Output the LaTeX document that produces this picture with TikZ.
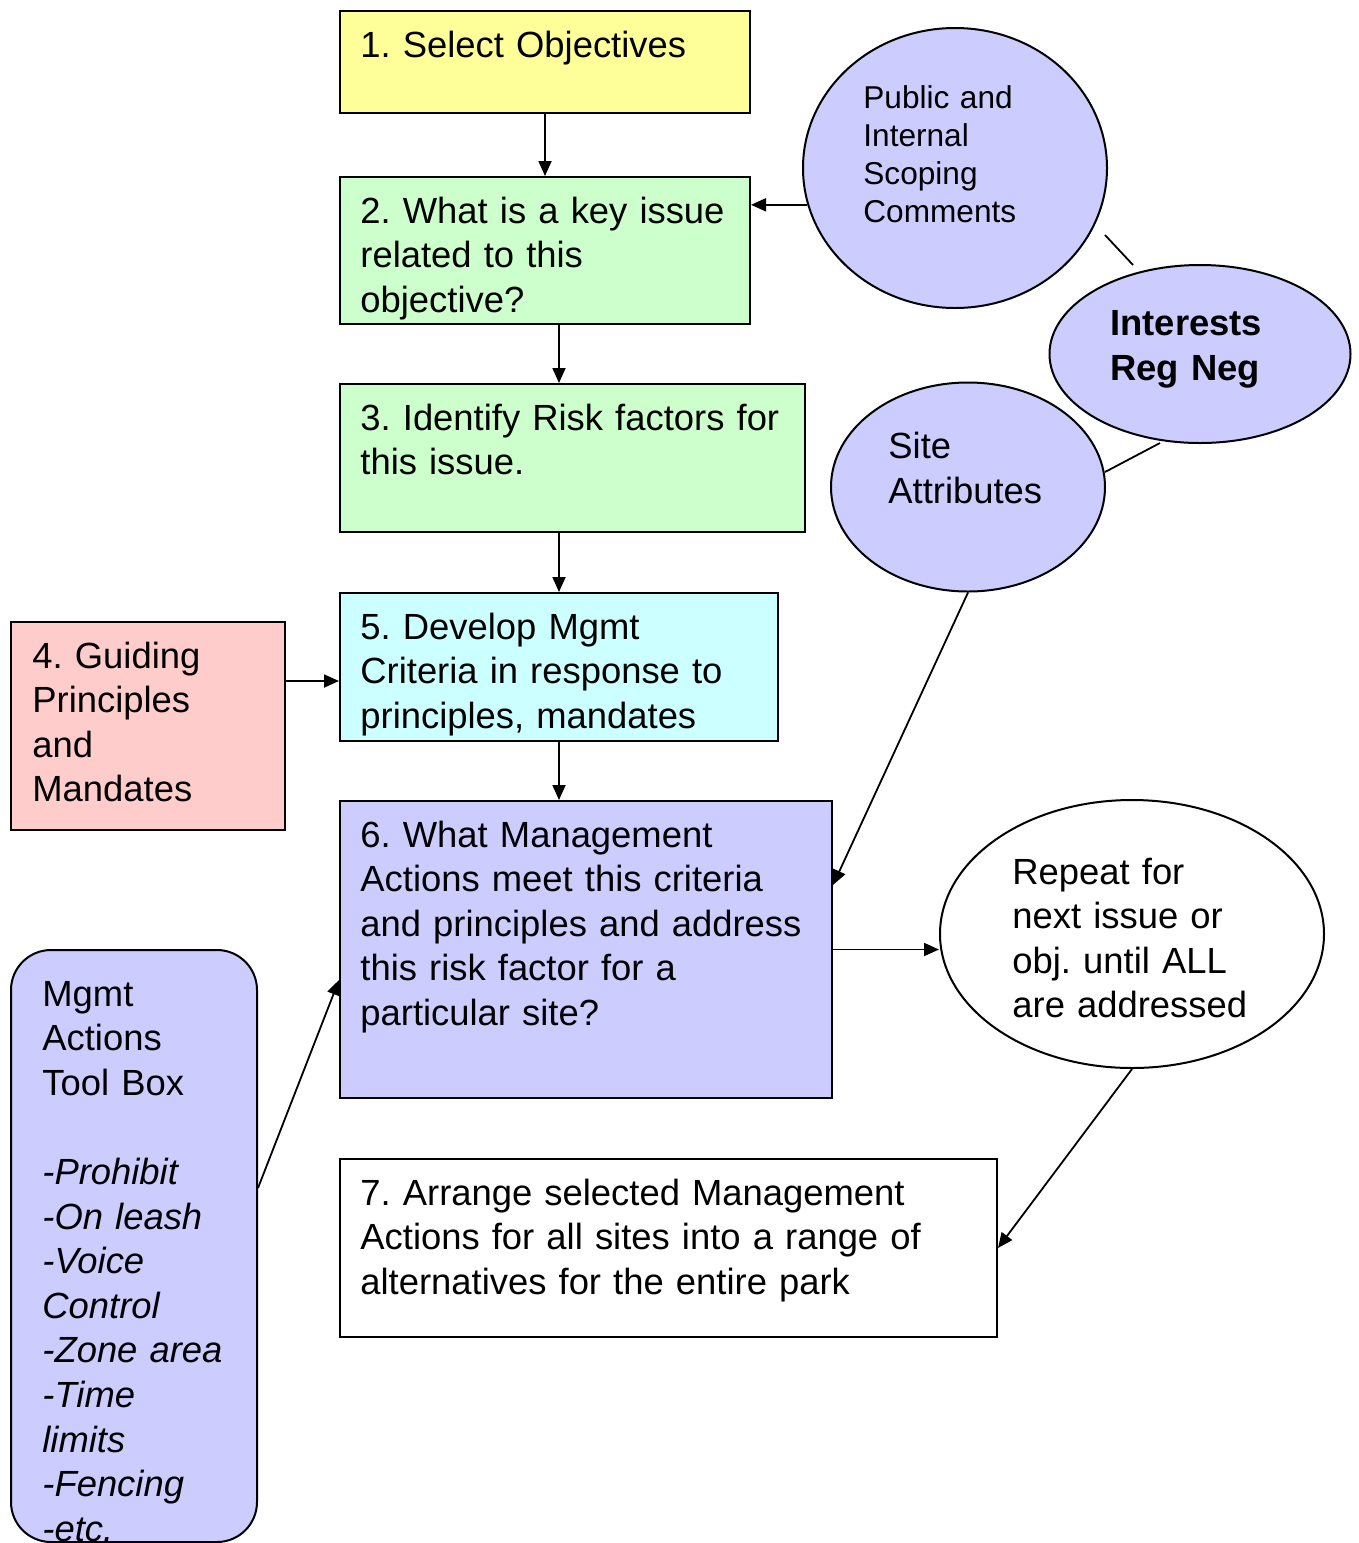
\documentclass[tikz,border=0pt]{standalone}
\usepackage{fontspec}
\setmainfont{Liberation Sans}
\usetikzlibrary{shapes.geometric,arrows.meta}
\definecolor{cyel}{HTML}{FFFF99}
\definecolor{cgrn}{HTML}{CCFFCC}
\definecolor{ccyn}{HTML}{CCFFFF}
\definecolor{cpnk}{HTML}{FFCCCC}
\definecolor{clav}{HTML}{CCCCFF}
\begin{document}
\frenchspacing
\begin{tikzpicture}[x=0.5pt,y=-0.5pt,
  boxnode/.style={draw=black,line width=1pt,inner sep=0pt,anchor=north west},
  ellnode/.style={ellipse,draw=black,line width=1pt,inner sep=0pt,fill=clav},
  txt/.style={anchor=base west,inner sep=0pt,text width=330pt,align=left,
    font=\fontsize{18.2}{22.3}\selectfont},
  smalltxt/.style={anchor=base west,inner sep=0pt,text width=120pt,align=left,
    font=\fontsize{15.8}{19}\selectfont},
  arr/.style={line width=0.9pt,-{Triangle[length=7.5pt,width=6.5pt]}},
  plain/.style={line width=0.9pt}]
\useasboundingbox (0,0) rectangle (1359,1543);
% boxes
\node[boxnode,fill=cyel,minimum width=205pt,minimum height=51pt] (b1) at (339,10) {};
\node[boxnode,fill=cgrn,minimum width=205pt,minimum height=73.5pt] (b2) at (339,176) {};
\node[boxnode,fill=cgrn,minimum width=232.5pt,minimum height=74pt] (b3) at (339,383) {};
\node[boxnode,fill=cpnk,minimum width=137pt,minimum height=104pt] (b4) at (10,621) {};
\node[boxnode,fill=ccyn,minimum width=219pt,minimum height=74pt] (b5) at (339,592) {};
\node[boxnode,fill=clav,minimum width=246pt,minimum height=148.5pt] (b6) at (339,800) {};
\node[boxnode,fill=white,minimum width=328.5pt,minimum height=89pt] (b7) at (339,1158) {};
\node[boxnode,fill=clav,rounded corners=20pt,minimum width=123pt,minimum height=296pt] (tb) at (10,949) {};
% ellipses
\node[ellnode,minimum width=152pt,minimum height=140pt] (pub) at (955,168) {};
\node[ellnode,minimum width=150.5pt,minimum height=89pt] (int) at (1200,354) {};
\node[ellnode,minimum width=137pt,minimum height=104.5pt] (site) at (968,487) {};
\node[ellnode,fill=white,minimum width=192pt,minimum height=134pt] (rep) at (1132,934) {};
% texts
\node[txt] (t1) at (360,57) {1. Select Objectives};
\node[txt] (t2) at (360,223) {2. What is a key issue\\related to this\\objective?};
\node[txt] (t3) at (360,430) {3. Identify Risk factors for\\this issue.};
\node[txt] (t4) at (32,668) {4. Guiding\\Principles\\and\\Mandates};
\node[txt] (t5) at (360,639) {5. Develop Mgmt\\Criteria in response to\\principles, mandates};
\node[txt] (t6) at (360,847) {6. What Management\\Actions meet this criteria\\and principles and address\\this risk factor for a\\particular site?};
\node[txt] (t7) at (360,1205) {7. Arrange selected Management\\Actions for all sites into a range of\\alternatives for the entire park};
\node[txt] (ttb) at (42,1006) {Mgmt\\Actions\\Tool Box\\[22.3pt]\textit{-Prohibit}\\\textit{-On leash}\\\textit{-Voice}\\\textit{Control}\\\textit{-Zone area}\\\textit{-Time}\\\textit{limits}\\\textit{-Fencing}\\\textit{-etc.}};
\node[smalltxt] (tpub) at (863,108) {Public and\\Internal\\Scoping\\Comments};
\node[txt,font=\fontsize{18.2}{22.5}\selectfont\bfseries] (tint) at (1110,335) {Interests\\Reg Neg};
\node[txt,font=\fontsize{18.2}{22.5}\selectfont] (tsite) at (888,458) {Site\\Attributes};
\node[txt] (trep) at (1012,884) {Repeat for\\next issue or\\obj. until ALL\\are addressed};
% helper coordinates
\coordinate (c45) at (0,681);
\coordinate (c6a) at (0,885);
\coordinate (c6b) at (0,980);
\coordinate (ctb) at (0,1188);
\coordinate (l1a) at (1105,235);
\coordinate (l1b) at (1133,265);
\coordinate (l2a) at (1105,472);
\coordinate (l2b) at (1160,443);
% connectors
\draw[arr] (b1.south) -- (b2.north);
\draw[arr] (b2.south -| b5.north) -- (b3.north -| b5.north);
\draw[arr] (b3.south -| b5.north) -- (b5.north);
\draw[arr] (b5.south) -- (b6.north -| b5.south);
\draw[arr] (pub.194) -- (b2.east |- pub.194);
\draw[arr] (b4.east |- c45) -- (b5.west |- c45);
\draw[arr] (site.south) -- (b6.east |- c6a);
\draw[arr] (tb.east |- ctb) -- (b6.west |- c6b);
\draw[arr] (b6.east) -- (rep.west |- b6.east);
\draw[arr] (rep.south) -- (b7.east);
\draw[plain] (l1a) -- (l1b);
\draw[plain] (l2a) -- (l2b);
\end{tikzpicture}
\end{document}
